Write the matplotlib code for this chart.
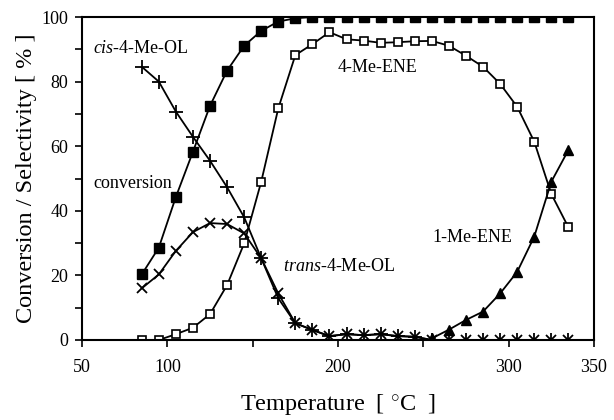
import matplotlib
matplotlib.use('Agg')
import matplotlib.pyplot as plt
from matplotlib.ticker import MultipleLocator

plt.rcParams['font.family'] = 'Liberation Serif'
plt.rcParams['mathtext.fontset'] = 'custom'
plt.rcParams['mathtext.rm'] = 'Liberation Serif'
plt.rcParams['mathtext.it'] = 'Liberation Serif:italic'

# temperatures (step of 10 C)
temperature = [85, 95, 105, 115, 125, 135, 145, 155, 165, 175, 185, 195, 205,
               215, 225, 235, 245, 255, 265, 275, 285, 295, 305, 315, 325, 335]

conversion = [20.3, 28.6, 44.3, 58.3, 72.5, 83.4, 91.1, 95.7, 98.6, 99.6,
              100, 100, 100, 100, 100, 100, 100, 100, 100, 100, 100, 100, 100,
              100, 100, 100]

me_ene_4 = [0, 0, 1.8, 3.8, 8.0, 17.0, 29.9, 49.0, 71.7, 88.2, 91.6, 95.3,
            93.1, 92.7, 92.0, 92.2, 92.5, 92.6, 91.1, 88.0, 84.6, 79.3, 72.2,
            61.4, 45.2, 34.9]

cis_ol = [84.6, 80.0, 70.7, 62.9, 55.5, 47.3, 38.0, 25.3, 12.9, 5.2, 3.1, 1.2,
          1.8, 1.5, 1.8, 1.2, 1.0, 0, 0, 0, 0, 0, 0, 0, 0, 0]

trans_ol = [16.0, 20.3, 27.6, 33.4, 36.2, 35.9, 33.0, 25.3, 14.4, 5.2, 3.1,
            1.2, 1.8, 1.5, 1.8, 1.2, 1.0, 0, 0, 0, 0, 0, 0, 0, 0, 0]

# 1-Me-ENE only measured from 255 C on
t_me_ene_1 = temperature[17:]
me_ene_1 = [0.5, 3.2, 6.2, 8.8, 14.4, 21.1, 32.0, 49.0, 58.8]

xtick_vals = [50, 100, 150, 200, 250, 300, 350]
xtick_labels = ['50', '100', '', '200', '', '300', '350']

fig = plt.figure(figsize=(6.14, 4.2), dpi=100)
ax = fig.add_axes([0.1336, 0.1905, 0.8338, 0.769])

lw = 1.3
ax.plot(temperature, me_ene_4, color='black', lw=lw, marker='s', ms=5.5,
        mfc='white', mec='black', mew=1.2)
ax.plot(temperature, conversion, color='black', lw=lw, marker='s', ms=7.5,
        mfc='black', mec='black')
ax.plot(temperature, cis_ol, color='black', lw=lw, marker='+', ms=10, mew=1.3)
ax.plot(temperature, trans_ol, color='black', lw=lw, marker='x', ms=7, mew=1.3)
ax.plot(t_me_ene_1, me_ene_1, color='black', lw=lw, marker='^', ms=7.5,
        mfc='black', mec='black')

ax.set_xlim(50, 350)
ax.set_ylim(0, 100)
ax.set_xticks(xtick_vals)
ax.set_xticklabels(xtick_labels)
ax.yaxis.set_major_locator(MultipleLocator(20))
ax.yaxis.set_minor_locator(MultipleLocator(10))
ax.tick_params(axis='x', direction='out', length=5, width=1.2, pad=9,
               labelsize=13)
ax.tick_params(axis='y', which='both', direction='out', length=5, width=1.2,
               pad=5, labelsize=13)
for s in ax.spines.values():
    s.set_linewidth(1.5)

ax.set_xlabel('Temperature  [ $^{\\circ}$C  ]', fontsize=17.5, labelpad=11)
ax.set_ylabel('Conversion / Selectivity [ % ]', fontsize=17.5, labelpad=3)

fs = 13
ax.text(56.4, 90.1, '$\\it{cis}$-4-Me-OL', fontsize=fs, va='center')
ax.text(56.4, 48.3, 'conversion', fontsize=fs, va='center')
ax.text(200, 84.4, '4-Me-ENE', fontsize=fs, va='center')
ax.text(167.8, 22.6, '$\\it{trans}$-4-Me-OL', fontsize=fs, va='center')
ax.text(255.1, 31.7, '1-Me-ENE', fontsize=fs, va='center')

fig.savefig('out.png', dpi=100)
